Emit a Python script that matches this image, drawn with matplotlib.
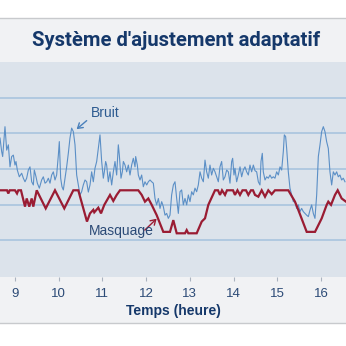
import matplotlib
matplotlib.use('Agg')
import matplotlib.pyplot as plt
from matplotlib.patches import Rectangle
from matplotlib.lines import Line2D

# noise level (Bruit), hours / dB
t_noise = [
    8.657, 8.695, 8.718, 8.771, 8.81, 8.848, 8.886, 8.924, 8.962, 9.0,
    9.023, 9.053, 9.099, 9.153, 9.191, 9.229, 9.267, 9.305, 9.343, 9.382,
    9.42, 9.442, 9.481, 9.511, 9.557, 9.61, 9.648, 9.687, 9.725, 9.763,
    9.801, 9.839, 9.877, 9.915, 9.953, 9.992, 10.014, 10.045, 10.075, 10.106,
    10.144, 10.182, 10.22, 10.258, 10.296, 10.335, 10.373, 10.411, 10.449, 10.487,
    10.525, 10.563, 10.602, 10.64, 10.678, 10.716, 10.754, 10.792, 10.83, 10.869,
    10.907, 10.945, 10.983, 11.021, 11.044, 11.074, 11.097, 11.135, 11.173, 11.212,
    11.25, 11.288, 11.326, 11.364, 11.387, 11.425, 11.456, 11.479, 11.517, 11.555,
    11.593, 11.631, 11.669, 11.707, 11.746, 11.761, 11.799, 11.822, 11.86, 11.898,
    11.936, 11.974, 12.013, 12.051, 12.089, 12.127, 12.165, 12.203, 12.241, 12.28,
    12.318, 12.356, 12.394, 12.432, 12.47, 12.508, 12.546, 12.584, 12.623,
    12.661, 12.699, 12.737, 12.775, 12.813, 12.851, 12.889, 12.928, 12.966, 13.004,
    13.042, 13.08, 13.118, 13.156, 13.194, 13.233, 13.271, 13.309, 13.347, 13.385,
    13.423, 13.461, 13.499, 13.538, 13.576, 13.614, 13.652, 13.69, 13.728, 13.766,
    13.804, 13.843, 13.881, 13.919, 13.957, 13.98, 14.01, 14.033, 14.071, 14.109,
    14.148, 14.186, 14.224, 14.262, 14.3, 14.338, 14.376, 14.414, 14.453,
    14.491, 14.529, 14.567, 14.605, 14.628, 14.658, 14.681, 14.72, 14.758, 14.796,
    14.834, 14.872, 14.91, 14.948, 14.986, 15.025, 15.063, 15.101, 15.139, 15.162,
    15.192, 15.215, 15.253, 15.291, 15.33, 15.368, 15.406, 15.444, 15.482, 15.52,
    15.558, 15.596, 15.635, 15.673, 15.711, 15.749, 15.787, 15.825, 15.863, 15.902,
    15.94, 15.978, 16.016, 16.054, 16.092, 16.13, 16.168, 16.206, 16.245, 16.283,
    16.321, 16.359, 16.397, 16.435, 16.473, 16.511, 16.55,
]
noise_db = [
    48.7, 44.9, 43.5, 51.9, 45.3, 46.8, 40.6, 43.5, 43.9, 41.1,
    42.1, 39.7, 37.8, 38.8, 37.4, 36.4, 37.4, 39.7, 40.6, 36.4,
    35.5, 39.7, 37.8, 36.0, 34.6, 36.9, 37.8, 36.0, 36.4, 37.4,
    36.0, 38.3, 39.2, 36.9, 38.3, 43.9, 47.7, 37.4, 35.0, 34.1,
    37.4, 40.6, 44.4, 48.7, 51.5, 50.5, 46.8, 38.3, 35.5, 32.7,
    33.6, 35.5, 36.9, 36.4, 33.5, 35.5, 39.2, 36.4, 40.2, 42.1,
    45.8, 49.6, 42.1, 37.4, 39.2, 42.1, 41.1, 36.4, 39.2, 35.5,
    39.2, 42.1, 38.3, 46.8, 43.9, 37.4, 39.2, 42.1, 41.1, 39.2,
    41.1, 38.3, 41.1, 43.0, 40.6, 43.5, 41.1, 38.3, 36.9, 38.3,
    35.0, 36.4, 35.5, 36.4, 36.9, 36.4, 36.0, 31.7, 29.9, 31.7,
    28.9, 30.8, 29.4, 27.0, 27.5, 26.1, 27.0, 32.7, 35.5,
    36.4, 31.7, 27.5, 33.6, 34.1, 29.9, 31.7, 29.9, 32.7, 30.8,
    33.6, 32.7, 34.6, 33.6, 35.5, 39.2, 37.4, 36.4, 42.5, 39.2,
    37.4, 41.1, 38.3, 40.2, 39.2, 37.8, 36.4, 40.6, 42.1, 36.9,
    37.8, 39.7, 39.2, 36.0, 42.1, 43.0, 38.3, 40.2, 36.4, 38.3,
    40.6, 37.8, 39.7, 40.6, 39.2, 38.3, 41.1, 39.2, 41.1,
    39.5, 39.2, 36.4, 35.5, 42.1, 44.4, 39.2, 36.9, 37.8, 37.4,
    38.3, 37.4, 37.8, 37.4, 39.2, 38.3, 40.6, 39.7, 44.9, 49.6,
    49.1, 45.8, 39.2, 34.6, 32.7, 30.8, 30.8, 28.9, 29.9, 28.0,
    28.9, 28.0, 27.5, 27.0, 26.6, 28.4, 29.9, 27.5, 26.1, 32.7,
    43.5, 46.8, 50.5, 51.9, 50.5, 47.7, 45.8, 39.2, 35.5, 39.2,
    38.3, 39.2, 37.8, 38.3, 36.9, 37.4, 36.4,
]

# masking level (Masquage)
t_mask = [
    8.657, 8.817, 8.847, 8.879, 9.0, 9.046, 9.076, 9.137, 9.229, 9.268,
    9.327, 9.382, 9.419, 9.497, 9.703, 9.915, 10.128, 10.334, 10.448, 10.647,
    10.716, 10.792, 10.814, 10.906, 10.968, 11.043, 11.174, 11.249, 11.327, 11.402,
    11.821, 11.899, 11.974, 12.05, 12.128, 12.242, 12.393, 12.546, 12.622, 12.7,
    12.89, 12.928, 12.965, 13.157, 13.272, 13.347, 13.423, 13.576, 13.644, 13.69,
    13.736, 13.805, 13.85, 13.988, 14.033, 14.09, 14.148, 14.205, 14.285, 14.338,
    14.399, 14.445, 14.491, 14.567, 14.644, 14.72, 14.795, 14.873, 14.948, 15.253,
    15.406, 15.481, 15.674, 15.864, 16.017, 16.131, 16.168, 16.23, 16.321, 16.383,
    16.474, 16.573,
]
mask_db = [
    34.0, 34.0, 33.1, 34.0, 34.0, 33.1, 34.0, 34.0, 29.4, 31.7,
    29.4, 31.7, 29.4, 34.0, 28.9, 34.0, 28.9, 34.0, 34.0, 25.2,
    27.5, 28.5, 27.8, 29.1, 27.5, 29.9, 32.7, 31.0, 32.7, 34.0,
    34.0, 32.7, 30.8, 31.7, 29.9, 27.0, 22.3, 22.3, 25.6, 21.9,
    21.9, 22.8, 21.9, 21.9, 25.2, 26.1, 29.9, 34.0, 34.0, 32.7,
    34.0, 32.7, 34.0, 34.0, 32.7, 34.0, 32.7, 34.0, 34.0, 32.7,
    34.0, 34.0, 32.7, 32.2, 34.0, 32.2, 34.0, 32.9, 34.0, 34.0,
    30.8, 28.5, 22.3, 22.3, 26.1, 29.9, 30.8, 29.9, 32.7, 34.0,
    31.7, 30.8,
]

hours = [9, 10, 11, 12, 13, 14, 15, 16]
grid_db = [20, 30, 40, 50, 60]

navy = '#15386a'
label_col = '#2b4a76'
red = '#9a1c33'

fig = plt.figure(figsize=(3.46, 3.46), dpi=100)
fig.patch.set_facecolor('white')

# header and footer panels
panel = '#f1f2f4'
fig.add_artist(Rectangle((0, 0.8208), 1, 0.1272, transform=fig.transFigure,
                         facecolor=panel, edgecolor='none', zorder=0))
fig.add_artist(Rectangle((0, 0.0665), 1, 0.1329, transform=fig.transFigure,
                         facecolor=panel, edgecolor='none', zorder=0))
fig.add_artist(Line2D([0, 1], [0.948, 0.948], transform=fig.transFigure,
                      color='#c8cacd', lw=1.0))
fig.add_artist(Line2D([0, 1], [0.0665, 0.0665], transform=fig.transFigure,
                      color='#c8cacd', lw=1.0))

fig.text(0.51, 0.882, "Système d'ajustement adaptatif", ha='center', va='center',
         fontsize=14.6, fontweight='bold', family='Roboto', color=navy)

ax = fig.add_axes([0, 0.1994, 1, 0.6214])
ax.set_facecolor('#dce3eb')
for s in ax.spines.values():
    s.set_visible(False)

for g in grid_db:
    ax.axhline(g, color='#a9c4de', lw=1.2, zorder=1)

ax.plot(t_noise, noise_db, color='#5b8fc6', lw=0.8, zorder=3)
ax.plot(t_mask, mask_db, color=red, lw=1.6, zorder=4, solid_joinstyle='miter')

ax.set_xlim(8.657, 16.573)
ax.set_ylim(9.6, 70.1)
ax.set_yticks([])
ax.set_xticks(hours)
ax.set_xticklabels([str(h) for h in hours])
ax.tick_params(axis='x', direction='out', length=3, width=0.8, color='#aab3bf',
               pad=5, labelsize=9.5, labelcolor=label_col)
for lbl in ax.get_xticklabels():
    lbl.set_family('Liberation Sans')

ax.set_xlabel('Temps (heure)', fontsize=10, fontweight='bold', color=navy,
              family='Liberation Sans', labelpad=3)

# labels with pointer arrows
ax.text(11.06, 55.8, 'Bruit', ha='center', va='center', fontsize=10,
        family='Liberation Sans', color='#2c5a90', zorder=5)
ax.annotate('', xy=(10.41, 51.2), xytext=(10.64, 53.6),
            arrowprops=dict(arrowstyle='->,head_length=0.35,head_width=0.22',
                            color='#4a80bb', lw=1.0, shrinkA=0, shrinkB=0))
ax.annotate('', xy=(12.24, 26.0), xytext=(11.97, 22.8),
            arrowprops=dict(arrowstyle='->,head_length=0.35,head_width=0.22',
                            color=red, lw=1.0, shrinkA=0, shrinkB=0))
ax.text(11.44, 22.5, 'Masquage', ha='center', va='center', fontsize=10,
        family='Liberation Sans', color=label_col, zorder=5)

plt.savefig('out.png', dpi=100)
plt.close()
